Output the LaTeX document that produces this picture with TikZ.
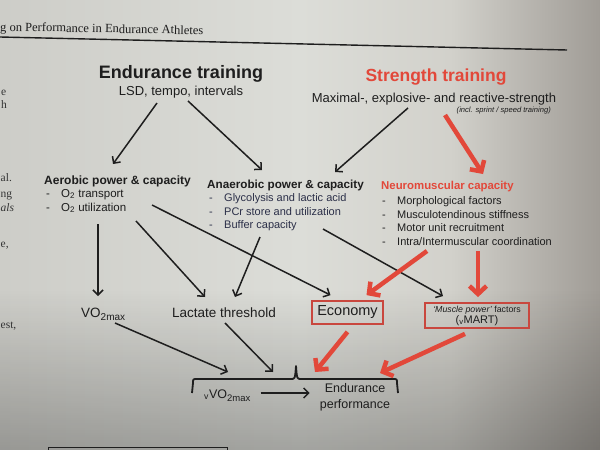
\documentclass[tikz,border=0pt]{standalone}
\usepackage{fontspec}
\setmainfont{Liberation Sans}
\newfontfamily\paperserif{Liberation Serif}
\usetikzlibrary{arrows.meta,calc,fadings}

\definecolor{ink}{HTML}{1E1E1E}
\definecolor{inkblue}{HTML}{2B2F48}
\definecolor{redink}{HTML}{E2483A}
\definecolor{boxred}{HTML}{C9473E}
\definecolor{paperL}{HTML}{CDCDC8}
\definecolor{paperM}{HTML}{DCDDD8}
\definecolor{paperMM}{HTML}{D2D1CB}
\definecolor{paperR}{HTML}{A09C96}

\newcommand\diafont[2]{\fontsize{#1}{#2}\selectfont}

\tikzset{
  txt/.style={inner sep=0pt, text=ink},
  margintxt/.style={inner sep=0pt, text=ink!90, font=\paperserif\diafont{11.5}{14}, anchor=base west},
  blackarrow/.style={draw=ink, line width=1.5pt, -{Straight Barb[length=5pt,width=10pt]}},
  redarrow/.style={draw=redink, line width=4.5pt, -{Straight Barb[length=8pt,width=17pt]}},
  redbox/.style={draw=boxred, line width=1.8pt, inner sep=0pt, text=ink},
  bracestyle/.style={draw=ink, line width=1.8pt, line join=round},
}

\begin{document}
\begin{tikzpicture}[x=1pt,y=-1pt]
\useasboundingbox (0,0) rectangle (600,450);

% paper background
\shade[left color=paperL, right color=paperM] (0,0) rectangle (300.5,450);
\shade[left color=paperM, right color=paperMM] (300,0) rectangle (450.5,450);
\shade[left color=paperMM, right color=paperR] (450,0) rectangle (600,450);
\fill[black, opacity=0.26, path fading=north] (0,290) rectangle (600,450);

% running header of the page
\node[txt, font=\paperserif\diafont{12.5}{14}, anchor=base west, rotate=-1] (hdr) at (0,31) {g on Performance in Endurance Athletes};
\draw[ink, line width=1.4pt] (0,37) -- (567,50);

% end of the lines of the left text column
\node[margintxt] (m1) at (1,95) {e};
\node[margintxt] (m2) at (1,108) {h};
\node[margintxt] (m3) at (0.5,181) {al.};
\node[margintxt] (m4) at (0.5,197) {ng};
\node[margintxt, font=\paperserif\itshape\diafont{11.5}{14}] (m5) at (0.5,211) {als};
\node[margintxt] (m6) at (0.5,247) {e,};
\node[margintxt] (m7) at (0.5,328) {est,};

% training types
\node[txt, font=\bfseries\diafont{18}{20}, anchor=base] (et) at (181,78) {Endurance training};
\node[txt, font=\diafont{13}{15}, anchor=base] (lsd) at (181,95) {LSD, tempo, intervals};
\node[txt, font=\bfseries\diafont{17.5}{20}, text=redink, anchor=base] (st) at (436,81) {Strength training};
\node[txt, font=\diafont{13}{15}, anchor=base] (maxs) at (434,102) {Maximal-, explosive- and reactive-strength};
\node[txt, font=\itshape\diafont{7.6}{8}, anchor=base east] (incl) at (551,112) {(incl. sprint / speed training)};

% aerobic block
\node[txt, font=\bfseries\diafont{12}{14}, anchor=base west] (aer) at (44,184) {Aerobic power \& capacity};
\node[txt, font=\diafont{11.5}{13}, anchor=base west] (aerd1) at (46,197) {-};
\node[txt, font=\diafont{11.5}{13}, anchor=base west] (aer1) at (61,197) {O\textsubscript{2} transport};
\node[txt, font=\diafont{11.5}{13}, anchor=base west] (aerd2) at (46,211) {-};
\node[txt, font=\diafont{11.5}{13}, anchor=base west] (aer2) at (61,211) {O\textsubscript{2} utilization};

% anaerobic block
\node[txt, font=\bfseries\diafont{11.7}{14}, anchor=base west] (ana) at (207,188) {Anaerobic power \& capacity};
\node[txt, text=inkblue, font=\diafont{11}{13}, anchor=base west] (anad1) at (209,201) {-};
\node[txt, text=inkblue, font=\diafont{11}{13}, anchor=base west] (ana1) at (224,201) {Glycolysis and lactic acid};
\node[txt, text=inkblue, font=\diafont{11}{13}, anchor=base west] (anad2) at (209,215) {-};
\node[txt, text=inkblue, font=\diafont{11}{13}, anchor=base west] (ana2) at (224,215) {PCr store and utilization};
\node[txt, text=inkblue, font=\diafont{11}{13}, anchor=base west] (anad3) at (209,228) {-};
\node[txt, text=inkblue, font=\diafont{11}{13}, anchor=base west] (ana3) at (224,228) {Buffer capacity};

% neuromuscular block
\node[txt, font=\bfseries\diafont{11.4}{14}, text=redink, anchor=base west] (neu) at (381,189) {Neuromuscular capacity};
\node[txt, font=\diafont{11}{13}, anchor=base west] (neud1) at (382,204) {-};
\node[txt, font=\diafont{11}{13}, anchor=base west] (neu1) at (397,204) {Morphological factors};
\node[txt, font=\diafont{11}{13}, anchor=base west] (neud2) at (382,218) {-};
\node[txt, font=\diafont{11}{13}, anchor=base west] (neu2) at (397,218) {Musculotendinous stiffness};
\node[txt, font=\diafont{11}{13}, anchor=base west] (neud3) at (382,231) {-};
\node[txt, font=\diafont{11}{13}, anchor=base west] (neu3) at (397,231) {Motor unit recruitment};
\node[txt, font=\diafont{11}{13}, anchor=base west] (neud4) at (382,245) {-};
\node[txt, font=\diafont{11}{13}, anchor=base west] (neu4) at (397,245) {Intra/Intermuscular coordination};

% determinants
\node[txt, font=\diafont{13.5}{15}, anchor=base west] (vo) at (81,317) {VO\raisebox{-3pt}{\diafont{10}{11}2max}};
\node[txt, font=\diafont{13.5}{15}, anchor=base] (lt) at (224,317) {Lactate threshold};
\node[redbox, minimum width=71pt, minimum height=23pt, font=\diafont{14.5}{16}] (eco) at (347.5,312.5) {Economy};
\node[redbox, minimum width=104pt, minimum height=25pt, align=center] (mpf) at (477,315.5)
  {{\diafont{8.8}{9}\textit{`Muscle power'} factors}\\[-1pt]{\diafont{11}{11}(\textsubscript{v}MART)}};

% outcome
\node[txt, font=\diafont{12.5}{14}, anchor=base west] (vvo) at (204,398) {\textsubscript{v}VO\raisebox{-3pt}{\diafont{9.5}{10}2max}};
\node[txt, font=\diafont{12.5}{16}, align=center] (ep) at (355,397) {Endurance\\performance};
\draw[blackarrow] ($(vvo.base east)+(10,-5)$) -- ($(ep.west)+(-10,-4)$);

% brace over the outcome
\coordinate (b1) at (228,372);
\coordinate (b2) at (273,372);
\coordinate (b3) at (315,372);
\coordinate (b4) at (380,373);
\draw[bracestyle] (192,393) -- (193,383) .. controls (193,379) .. (197,379) -- (291,379)
  .. controls (295,379) .. (296,366) .. controls (297,379) .. (301,379) -- (393,379)
  .. controls (397,379) .. (397,383) -- (398,393);

% connectors from training to capacities
\draw[blackarrow] ($(lsd.base)+(-24,8)$) -- ($(aer.base west)+(69,-20)$);
\draw[blackarrow] ($(lsd.base)+(7,6)$) -- ($(ana.base west)+(55,-18)$);
\draw[blackarrow] ($(maxs.base)+(-26,6)$) -- ($(ana.base west)+(128,-16)$);
\draw[redarrow] ($(maxs.base)+(11,13)$) -- ($(neu.base west)+(102,-15)$);

% connectors from capacities to determinants
\draw[blackarrow] ($(aer2.base west)+(37,13)$) -- ($(vo.base west)+(17,-21)$);
\draw[blackarrow] ($(aer2.base west)+(75,10)$) -- ($(lt.base)+(-19,-20)$);
\draw[blackarrow] ($(aer2.base west)+(91,-6)$) -- ($(eco.north)+(-17,-5)$);
\draw[blackarrow] ($(ana3.base west)+(36,9)$) -- ($(lt.base)+(11,-20)$);
\draw[blackarrow] ($(ana3.base west)+(99,1)$) -- ($(mpf.north)+(-34,-6)$);
\draw[redarrow] ($(neu4.base west)+(30,6)$) -- ($(eco.north)+(19,-5)$);
\draw[redarrow] ($(neu4.base west)+(81,6)$) -- ($(mpf.north)+(1,-5)$);

% connectors from determinants to performance
\draw[blackarrow] ($(vo.base west)+(34,6)$) -- (b1);
\draw[blackarrow] ($(lt.base)+(1,6)$) -- (b2);
\draw[redarrow] ($(eco.south)+(0,7)$) -- (b3);
\draw[redarrow] ($(mpf.south)+(-12,5)$) -- (b4);

% top of the next framed block on the page
\draw[ink, line width=0.8pt] (48,451) -- (48,447) -- (227,447) -- (227,451);
\end{tikzpicture}
\end{document}
